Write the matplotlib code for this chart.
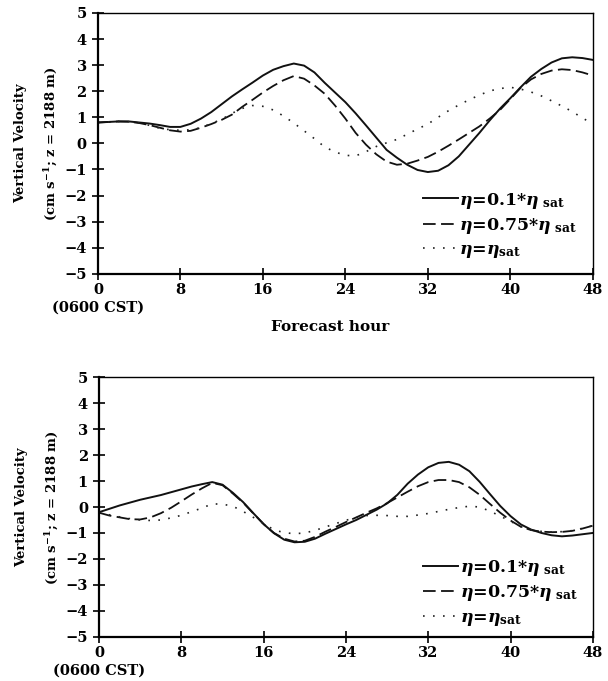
import numpy as np
import matplotlib
matplotlib.use('Agg')
import matplotlib.pyplot as plt
from matplotlib.transforms import blended_transform_factory

plt.rcParams['font.family'] = ['DejaVu Serif']
plt.rcParams['font.weight'] = 'bold'
plt.rcParams['mathtext.fontset'] = 'dejavuserif'

# forecast hours (0600 CST start), hourly
hours = list(range(0, 49))

# upper panel
top_01 = [0.80, 0.82, 0.84, 0.84, 0.80, 0.76, 0.70, 0.63, 0.63, 0.75,
          0.95, 1.20, 1.50, 1.80, 2.07, 2.33, 2.60, 2.82, 2.96, 3.06,
          2.98, 2.72, 2.32, 1.95, 1.58, 1.15, 0.69, 0.22, -0.25, -0.55,
          -0.82, -1.02, -1.10, -1.05, -0.84, -0.50, -0.05, 0.40, 0.88, 1.33,
          1.73, 2.15, 2.55, 2.85, 3.10, 3.26, 3.30, 3.27, 3.20]
top_075 = [0.80, 0.82, 0.84, 0.83, 0.78, 0.70, 0.60, 0.50, 0.45, 0.48,
           0.60, 0.74, 0.90, 1.10, 1.40, 1.67, 1.95, 2.20, 2.42, 2.58,
           2.48, 2.22, 1.90, 1.45, 0.95, 0.40, -0.05, -0.42, -0.70, -0.82,
           -0.78, -0.66, -0.52, -0.32, -0.09, 0.15, 0.40, 0.65, 0.95, 1.28,
           1.70, 2.13, 2.45, 2.66, 2.79, 2.84, 2.81, 2.72, 2.60]
top_sat = [0.80, 0.82, 0.84, 0.83, 0.78, 0.69, 0.58, 0.52, 0.50, 0.52,
           0.60, 0.76, 0.92, 1.15, 1.34, 1.45, 1.42, 1.28, 1.05, 0.78,
           0.48, 0.18, -0.14, -0.33, -0.46, -0.48, -0.32, -0.12, 0.02, 0.15,
           0.35, 0.55, 0.74, 1.00, 1.25, 1.47, 1.67, 1.85, 2.01, 2.10,
           2.15, 2.08, 1.97, 1.82, 1.63, 1.43, 1.22, 0.97, 0.75]

# lower panel
bot_01 = [-0.20, -0.07, 0.06, 0.17, 0.28, 0.37, 0.46, 0.57, 0.68, 0.79,
          0.88, 0.96, 0.86, 0.55, 0.19, -0.24, -0.66, -1.01, -1.26, -1.36,
          -1.34, -1.22, -1.03, -0.85, -0.67, -0.50, -0.30, -0.10, 0.14, 0.47,
          0.90, 1.25, 1.53, 1.70, 1.74, 1.63, 1.38, 0.97, 0.50, 0.04,
          -0.35, -0.67, -0.87, -1.00, -1.09, -1.13, -1.10, -1.05, -1.00]
bot_075 = [-0.22, -0.33, -0.40, -0.47, -0.48, -0.40, -0.24, -0.03, 0.22, 0.48,
           0.72, 0.93, 0.84, 0.52, 0.17, -0.25, -0.66, -1.00, -1.22, -1.33,
           -1.30, -1.15, -0.95, -0.77, -0.58, -0.40, -0.22, -0.05, 0.15, 0.37,
           0.59, 0.80, 0.96, 1.04, 1.04, 0.96, 0.76, 0.47, 0.12, -0.22,
           -0.52, -0.76, -0.89, -0.95, -0.97, -0.96, -0.92, -0.83, -0.72]
bot_sat = [-0.20, -0.30, -0.38, -0.45, -0.50, -0.52, -0.50, -0.42, -0.32, -0.18,
           -0.04, 0.12, 0.11, 0.03, -0.17, -0.40, -0.64, -0.88, -0.99, -1.03,
           -1.00, -0.90, -0.77, -0.64, -0.51, -0.41, -0.33, -0.32, -0.33, -0.36,
           -0.36, -0.31, -0.25, -0.17, -0.09, -0.02, 0.03, 0.00, -0.16, -0.35,
           -0.55, -0.76, -0.88, -0.94, -0.96, -0.95, -0.91, -0.82, -0.72]

labels = [r'$\eta$=0.1*$\eta_{\ \mathbf{sat}}$',
          r'$\eta$=0.75*$\eta_{\ \mathbf{sat}}$',
          r'$\eta$=$\eta_{\mathbf{sat}}$']
xticks = [0, 8, 16, 24, 32, 40, 48]
yticks = [-5, -4, -3, -2, -1, 0, 1, 2, 3, 4, 5]

fig = plt.figure(figsize=(6.08, 6.81), dpi=100)
ax1 = fig.add_axes([0.161, 0.598, 0.814, 0.383])
ax2 = fig.add_axes([0.163, 0.065, 0.812, 0.381])


def draw_panel(ax, s1, s2, s3, leg_y):
    ax.plot(hours, s1, color='#111111', lw=1.4, ls='-', label=labels[0])
    ax.plot(hours, s2, color='#111111', lw=1.3, ls=(0, (7, 3)), label=labels[1])
    ax.plot(hours, s3, color='#222222', lw=1.2, ls=(0, (1, 5)), label=labels[2])
    ax.set_xlim(0, 48)
    ax.set_ylim(-5, 5)
    ax.set_xticks(xticks)
    ax.set_yticks(yticks)
    ax.tick_params(direction='inout', length=8, width=1.2, labelsize=10.5, pad=3)
    ax.tick_params(axis='y', pad=4)
    for s in ['left', 'bottom']:
        ax.spines[s].set_linewidth(1.6)
    for s in ['top', 'right']:
        ax.spines[s].set_linewidth(1.0)
    ax.set_ylabel('Vertical Velocity\n(cm s$^{-1}$; z = 2188 m)', fontsize=9.5,
                  fontweight='bold', linespacing=2.2)
    ax.yaxis.set_label_coords(-0.077, 0.5)
    trans = blended_transform_factory(ax.transData, ax.transAxes)
    ax.text(0, -0.13, '(0600 CST)', transform=trans, ha='center', va='center',
            fontsize=10.5, fontweight='bold')
    ax.legend(loc='lower left', bbox_to_anchor=(0.625, leg_y), frameon=False,
              handlelength=2.0, handletextpad=0.1, labelspacing=0.3,
              prop={'size': 12.5, 'weight': 'bold'})


draw_panel(ax1, top_01, top_075, top_sat, -0.007)
draw_panel(ax2, bot_01, bot_075, bot_sat, -0.025)
ax1.text(0.47, -0.203, 'Forecast hour', transform=ax1.transAxes, ha='center',
         va='center', fontsize=11, fontweight='bold')

fig.savefig('out.png', dpi=100)
